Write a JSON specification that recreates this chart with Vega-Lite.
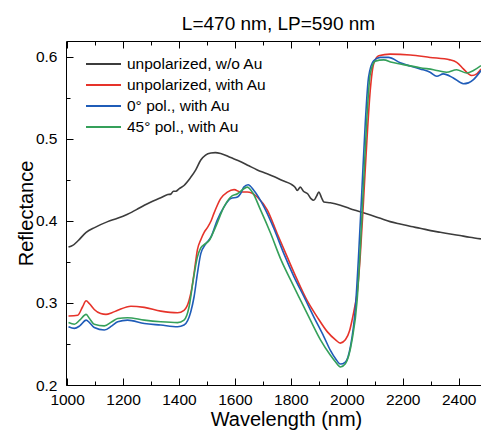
{
  "$schema": "https://vega.github.io/schema/vega-lite/v6.json",
  "autosize": "none",
  "width": 415,
  "height": 344,
  "padding": {"left": 66, "top": 41, "right": 0, "bottom": 46},
  "config": {
    "font": "Liberation Sans",
    "view": {"stroke": null},
    "axis": {"domainColor": "#000", "tickColor": "#000", "labelColor": "#000", "titleColor": "#000", "grid": false, "labelFontSize": 15.5, "titleFontSize": 20, "titleFontWeight": "normal", "domainWidth": 1, "tickWidth": 1}
  },
  "title": {"text": "L=470 nm, LP=590 nm", "fontSize": 19, "fontWeight": "normal", "color": "#000", "dx": 5, "offset": -8, "baseline": "alphabetic"},
  "data": {"values": [
    {"s":"unpolarized, w/o Au","w":1005,"r":0.368},{"s":"unpolarized, w/o Au","w":1020,"r":0.370},{"s":"unpolarized, w/o Au","w":1040,"r":0.376},{"s":"unpolarized, w/o Au","w":1068,"r":0.386},{"s":"unpolarized, w/o Au","w":1100,"r":0.392},{"s":"unpolarized, w/o Au","w":1145,"r":0.399},{"s":"unpolarized, w/o Au","w":1180,"r":0.403},{"s":"unpolarized, w/o Au","w":1216,"r":0.408},{"s":"unpolarized, w/o Au","w":1250,"r":0.414},{"s":"unpolarized, w/o Au","w":1276,"r":0.419},{"s":"unpolarized, w/o Au","w":1300,"r":0.423},{"s":"unpolarized, w/o Au","w":1335,"r":0.428},{"s":"unpolarized, w/o Au","w":1360,"r":0.432},{"s":"unpolarized, w/o Au","w":1371,"r":0.4325},{"s":"unpolarized, w/o Au","w":1380,"r":0.436},{"s":"unpolarized, w/o Au","w":1389,"r":0.436},{"s":"unpolarized, w/o Au","w":1400,"r":0.439},{"s":"unpolarized, w/o Au","w":1418,"r":0.443},{"s":"unpolarized, w/o Au","w":1440,"r":0.452},{"s":"unpolarized, w/o Au","w":1460,"r":0.462},{"s":"unpolarized, w/o Au","w":1478,"r":0.474},{"s":"unpolarized, w/o Au","w":1495,"r":0.480},{"s":"unpolarized, w/o Au","w":1514,"r":0.4825},{"s":"unpolarized, w/o Au","w":1530,"r":0.483},{"s":"unpolarized, w/o Au","w":1549,"r":0.482},{"s":"unpolarized, w/o Au","w":1585,"r":0.477},{"s":"unpolarized, w/o Au","w":1621,"r":0.472},{"s":"unpolarized, w/o Au","w":1650,"r":0.467},{"s":"unpolarized, w/o Au","w":1680,"r":0.462},{"s":"unpolarized, w/o Au","w":1710,"r":0.458},{"s":"unpolarized, w/o Au","w":1739,"r":0.454},{"s":"unpolarized, w/o Au","w":1770,"r":0.449},{"s":"unpolarized, w/o Au","w":1799,"r":0.445},{"s":"unpolarized, w/o Au","w":1815,"r":0.441},{"s":"unpolarized, w/o Au","w":1823,"r":0.437},{"s":"unpolarized, w/o Au","w":1834,"r":0.441},{"s":"unpolarized, w/o Au","w":1845,"r":0.436},{"s":"unpolarized, w/o Au","w":1860,"r":0.433},{"s":"unpolarized, w/o Au","w":1872,"r":0.427},{"s":"unpolarized, w/o Au","w":1882,"r":0.425},{"s":"unpolarized, w/o Au","w":1892,"r":0.430},{"s":"unpolarized, w/o Au","w":1900,"r":0.435},{"s":"unpolarized, w/o Au","w":1910,"r":0.428},{"s":"unpolarized, w/o Au","w":1918,"r":0.423},{"s":"unpolarized, w/o Au","w":1941,"r":0.422},{"s":"unpolarized, w/o Au","w":1977,"r":0.419},{"s":"unpolarized, w/o Au","w":2010,"r":0.415},{"s":"unpolarized, w/o Au","w":2048,"r":0.411},{"s":"unpolarized, w/o Au","w":2085,"r":0.407},{"s":"unpolarized, w/o Au","w":2120,"r":0.403},{"s":"unpolarized, w/o Au","w":2155,"r":0.399},{"s":"unpolarized, w/o Au","w":2191,"r":0.396},{"s":"unpolarized, w/o Au","w":2230,"r":0.393},{"s":"unpolarized, w/o Au","w":2262,"r":0.391},{"s":"unpolarized, w/o Au","w":2300,"r":0.388},{"s":"unpolarized, w/o Au","w":2334,"r":0.386},{"s":"unpolarized, w/o Au","w":2370,"r":0.384},{"s":"unpolarized, w/o Au","w":2405,"r":0.382},{"s":"unpolarized, w/o Au","w":2440,"r":0.380},{"s":"unpolarized, w/o Au","w":2480,"r":0.378},

    {"s":"unpolarized, with Au","w":1005,"r":0.284},{"s":"unpolarized, with Au","w":1038,"r":0.285},{"s":"unpolarized, with Au","w":1055,"r":0.295},{"s":"unpolarized, with Au","w":1068,"r":0.3026},{"s":"unpolarized, with Au","w":1080,"r":0.299},{"s":"unpolarized, with Au","w":1097,"r":0.292},{"s":"unpolarized, with Au","w":1120,"r":0.287},{"s":"unpolarized, with Au","w":1139,"r":0.286},{"s":"unpolarized, with Au","w":1160,"r":0.288},{"s":"unpolarized, with Au","w":1181,"r":0.291},{"s":"unpolarized, with Au","w":1228,"r":0.296},{"s":"unpolarized, with Au","w":1276,"r":0.2945},{"s":"unpolarized, with Au","w":1335,"r":0.290},{"s":"unpolarized, with Au","w":1395,"r":0.288},{"s":"unpolarized, with Au","w":1418,"r":0.291},{"s":"unpolarized, with Au","w":1436,"r":0.303},{"s":"unpolarized, with Au","w":1446,"r":0.318},{"s":"unpolarized, with Au","w":1454,"r":0.336},{"s":"unpolarized, with Au","w":1466,"r":0.365},{"s":"unpolarized, with Au","w":1478,"r":0.377},{"s":"unpolarized, with Au","w":1490,"r":0.386},{"s":"unpolarized, with Au","w":1502,"r":0.392},{"s":"unpolarized, with Au","w":1515,"r":0.400},{"s":"unpolarized, with Au","w":1525,"r":0.409},{"s":"unpolarized, with Au","w":1549,"r":0.427},{"s":"unpolarized, with Au","w":1573,"r":0.435},{"s":"unpolarized, with Au","w":1597,"r":0.438},{"s":"unpolarized, with Au","w":1621,"r":0.435},{"s":"unpolarized, with Au","w":1644,"r":0.435},{"s":"unpolarized, with Au","w":1660,"r":0.434},{"s":"unpolarized, with Au","w":1680,"r":0.429},{"s":"unpolarized, with Au","w":1716,"r":0.413},{"s":"unpolarized, with Au","w":1751,"r":0.3845},{"s":"unpolarized, with Au","w":1787,"r":0.356},{"s":"unpolarized, with Au","w":1823,"r":0.328},{"s":"unpolarized, with Au","w":1858,"r":0.303},{"s":"unpolarized, with Au","w":1894,"r":0.283},{"s":"unpolarized, with Au","w":1930,"r":0.265},{"s":"unpolarized, with Au","w":1960,"r":0.255},{"s":"unpolarized, with Au","w":1977,"r":0.251},{"s":"unpolarized, with Au","w":1995,"r":0.255},{"s":"unpolarized, with Au","w":2010,"r":0.266},{"s":"unpolarized, with Au","w":2019,"r":0.279},{"s":"unpolarized, with Au","w":2030,"r":0.298},{"s":"unpolarized, with Au","w":2037,"r":0.3115},{"s":"unpolarized, with Au","w":2048,"r":0.356},{"s":"unpolarized, with Au","w":2060,"r":0.425},{"s":"unpolarized, with Au","w":2072,"r":0.498},{"s":"unpolarized, with Au","w":2084,"r":0.559},{"s":"unpolarized, with Au","w":2096,"r":0.591},{"s":"unpolarized, with Au","w":2114,"r":0.601},{"s":"unpolarized, with Au","w":2155,"r":0.603},{"s":"unpolarized, with Au","w":2227,"r":0.602},{"s":"unpolarized, with Au","w":2298,"r":0.599},{"s":"unpolarized, with Au","w":2369,"r":0.596},{"s":"unpolarized, with Au","w":2393,"r":0.593},{"s":"unpolarized, with Au","w":2417,"r":0.585},{"s":"unpolarized, with Au","w":2435,"r":0.579},{"s":"unpolarized, with Au","w":2447,"r":0.577},{"s":"unpolarized, with Au","w":2465,"r":0.579},{"s":"unpolarized, with Au","w":2480,"r":0.585},

    {"s":"0° pol., with Au","w":1005,"r":0.271},{"s":"0° pol., with Au","w":1026,"r":0.269},{"s":"0° pol., with Au","w":1045,"r":0.272},{"s":"0° pol., with Au","w":1068,"r":0.279},{"s":"0° pol., with Au","w":1080,"r":0.276},{"s":"0° pol., with Au","w":1097,"r":0.270},{"s":"0° pol., with Au","w":1133,"r":0.267},{"s":"0° pol., with Au","w":1160,"r":0.272},{"s":"0° pol., with Au","w":1181,"r":0.277},{"s":"0° pol., with Au","w":1216,"r":0.279},{"s":"0° pol., with Au","w":1276,"r":0.275},{"s":"0° pol., with Au","w":1335,"r":0.273},{"s":"0° pol., with Au","w":1395,"r":0.271},{"s":"0° pol., with Au","w":1418,"r":0.273},{"s":"0° pol., with Au","w":1442,"r":0.289},{"s":"0° pol., with Au","w":1454,"r":0.3075},{"s":"0° pol., with Au","w":1466,"r":0.336},{"s":"0° pol., with Au","w":1478,"r":0.360},{"s":"0° pol., with Au","w":1496,"r":0.372},{"s":"0° pol., with Au","w":1514,"r":0.380},{"s":"0° pol., with Au","w":1537,"r":0.401},{"s":"0° pol., with Au","w":1561,"r":0.417},{"s":"0° pol., with Au","w":1585,"r":0.427},{"s":"0° pol., with Au","w":1609,"r":0.429},{"s":"0° pol., with Au","w":1620,"r":0.433},{"s":"0° pol., with Au","w":1632,"r":0.441},{"s":"0° pol., with Au","w":1647,"r":0.444},{"s":"0° pol., with Au","w":1668,"r":0.437},{"s":"0° pol., with Au","w":1704,"r":0.417},{"s":"0° pol., with Au","w":1739,"r":0.391},{"s":"0° pol., with Au","w":1775,"r":0.360},{"s":"0° pol., with Au","w":1811,"r":0.332},{"s":"0° pol., with Au","w":1847,"r":0.3075},{"s":"0° pol., with Au","w":1882,"r":0.283},{"s":"0° pol., with Au","w":1918,"r":0.259},{"s":"0° pol., with Au","w":1941,"r":0.2425},{"s":"0° pol., with Au","w":1960,"r":0.232},{"s":"0° pol., with Au","w":1977,"r":0.2255},{"s":"0° pol., with Au","w":1995,"r":0.228},{"s":"0° pol., with Au","w":2013,"r":0.2466},{"s":"0° pol., with Au","w":2031,"r":0.295},{"s":"0° pol., with Au","w":2042,"r":0.356},{"s":"0° pol., with Au","w":2054,"r":0.437},{"s":"0° pol., with Au","w":2066,"r":0.518},{"s":"0° pol., with Au","w":2078,"r":0.575},{"s":"0° pol., with Au","w":2096,"r":0.595},{"s":"0° pol., with Au","w":2120,"r":0.599},{"s":"0° pol., with Au","w":2149,"r":0.599},{"s":"0° pol., with Au","w":2191,"r":0.5925},{"s":"0° pol., with Au","w":2262,"r":0.585},{"s":"0° pol., with Au","w":2298,"r":0.581},{"s":"0° pol., with Au","w":2322,"r":0.576},{"s":"0° pol., with Au","w":2345,"r":0.579},{"s":"0° pol., with Au","w":2381,"r":0.574},{"s":"0° pol., with Au","w":2417,"r":0.567},{"s":"0° pol., with Au","w":2435,"r":0.568},{"s":"0° pol., with Au","w":2453,"r":0.572},{"s":"0° pol., with Au","w":2480,"r":0.583},

    {"s":"45° pol., with Au","w":1005,"r":0.276},{"s":"45° pol., with Au","w":1026,"r":0.274},{"s":"45° pol., with Au","w":1045,"r":0.279},{"s":"45° pol., with Au","w":1068,"r":0.286},{"s":"45° pol., with Au","w":1080,"r":0.281},{"s":"45° pol., with Au","w":1097,"r":0.274},{"s":"45° pol., with Au","w":1133,"r":0.272},{"s":"45° pol., with Au","w":1160,"r":0.277},{"s":"45° pol., with Au","w":1181,"r":0.281},{"s":"45° pol., with Au","w":1216,"r":0.282},{"s":"45° pol., with Au","w":1276,"r":0.279},{"s":"45° pol., with Au","w":1335,"r":0.277},{"s":"45° pol., with Au","w":1395,"r":0.276},{"s":"45° pol., with Au","w":1418,"r":0.279},{"s":"45° pol., with Au","w":1436,"r":0.295},{"s":"45° pol., with Au","w":1451,"r":0.328},{"s":"45° pol., with Au","w":1466,"r":0.356},{"s":"45° pol., with Au","w":1478,"r":0.367},{"s":"45° pol., with Au","w":1490,"r":0.371},{"s":"45° pol., with Au","w":1508,"r":0.376},{"s":"45° pol., with Au","w":1531,"r":0.3926},{"s":"45° pol., with Au","w":1561,"r":0.417},{"s":"45° pol., with Au","w":1585,"r":0.429},{"s":"45° pol., with Au","w":1609,"r":0.433},{"s":"45° pol., with Au","w":1632,"r":0.439},{"s":"45° pol., with Au","w":1644,"r":0.441},{"s":"45° pol., with Au","w":1662,"r":0.435},{"s":"45° pol., with Au","w":1692,"r":0.413},{"s":"45° pol., with Au","w":1728,"r":0.3845},{"s":"45° pol., with Au","w":1763,"r":0.354},{"s":"45° pol., with Au","w":1799,"r":0.328},{"s":"45° pol., with Au","w":1835,"r":0.303},{"s":"45° pol., with Au","w":1870,"r":0.279},{"s":"45° pol., with Au","w":1906,"r":0.255},{"s":"45° pol., with Au","w":1941,"r":0.2365},{"s":"45° pol., with Au","w":1960,"r":0.228},{"s":"45° pol., with Au","w":1977,"r":0.222},{"s":"45° pol., with Au","w":1995,"r":0.226},{"s":"45° pol., with Au","w":2019,"r":0.255},{"s":"45° pol., with Au","w":2037,"r":0.303},{"s":"45° pol., with Au","w":2048,"r":0.364},{"s":"45° pol., with Au","w":2060,"r":0.445},{"s":"45° pol., with Au","w":2072,"r":0.526},{"s":"45° pol., with Au","w":2084,"r":0.579},{"s":"45° pol., with Au","w":2102,"r":0.5945},{"s":"45° pol., with Au","w":2132,"r":0.596},{"s":"45° pol., with Au","w":2161,"r":0.593},{"s":"45° pol., with Au","w":2191,"r":0.591},{"s":"45° pol., with Au","w":2262,"r":0.5865},{"s":"45° pol., with Au","w":2310,"r":0.584},{"s":"45° pol., with Au","w":2357,"r":0.581},{"s":"45° pol., with Au","w":2393,"r":0.584},{"s":"45° pol., with Au","w":2429,"r":0.580},{"s":"45° pol., with Au","w":2453,"r":0.583},{"s":"45° pol., with Au","w":2480,"r":0.589}
  ]},
  "layer": [
    {
      "mark": {"type": "line", "interpolate": "monotone", "strokeWidth": 1.6, "clip": true},
      "encoding": {
        "x": {"field": "w", "type": "quantitative", "scale": {"domain": [996, 2480], "nice": false, "zero": false},
          "axis": {"orient": "bottom", "title": "Wavelength (nm)", "values": [1000,1100,1200,1300,1400,1500,1600,1700,1800,1900,2000,2100,2200,2300,2400],
            "labelExpr": "datum.value % 200 === 0 ? datum.label : ''", "format": "d",
            "tickSize": {"condition": {"test": "datum.value % 200 === 0", "value": -7}, "value": -4},
            "labelPadding": 14, "labelFlush": false, "titleX": 220, "titleY": 40, "titleBaseline": "alphabetic"}},
        "y": {"field": "r", "type": "quantitative", "scale": {"domain": [0.2, 0.619], "nice": false, "zero": false},
          "axis": {"title": "Reflectance", "values": [0.2,0.25,0.3,0.35,0.4,0.45,0.5,0.55,0.6],
            "labelExpr": "abs(datum.value*10 - round(datum.value*10)) < 0.01 ? format(datum.value, '.1f') : ''",
            "tickSize": {"condition": {"test": "abs(datum.value*10 - round(datum.value*10)) < 0.01", "value": -7}, "value": -4},
            "labelPadding": 16, "labelFlush": false, "titleX": -34, "titleY": 172, "titleBaseline": "alphabetic", "titleAngle": -90}},
        "color": {"field": "s", "type": "nominal",
          "scale": {"domain": ["unpolarized, w/o Au", "unpolarized, with Au", "0° pol., with Au", "45° pol., with Au"], "range": ["#3c3c3c", "#e6332a", "#1f5cb8", "#35a05a"]},
          "legend": {"orient": "none", "legendX": 19, "legendY": 12, "title": null, "symbolType": "M-1,0H2.5", "symbolSize": 400, "symbolStrokeWidth": 1.8, "symbolFillColor": "transparent", "labelFontSize": 15.5, "labelColor": "#000", "labelOffset": 20, "padding": 0, "rowPadding": 1}}
      }
    },
    {
      "mark": {"type": "line", "strokeOpacity": 0},
      "encoding": {
        "x": {"field": "w", "type": "quantitative", "axis": {"orient": "top", "title": null, "labels": false, "values": [1000,1100,1200,1300,1400,1500,1600,1700,1800,1900,2000,2100,2200,2300,2400],
          "tickSize": {"condition": {"test": "datum.value % 200 === 0", "value": -7}, "value": -4}}},
        "y": {"field": "r", "type": "quantitative", "axis": null}
      }
    }
  ],
  "resolve": {"axis": {"x": "independent", "y": "independent"}}
}
